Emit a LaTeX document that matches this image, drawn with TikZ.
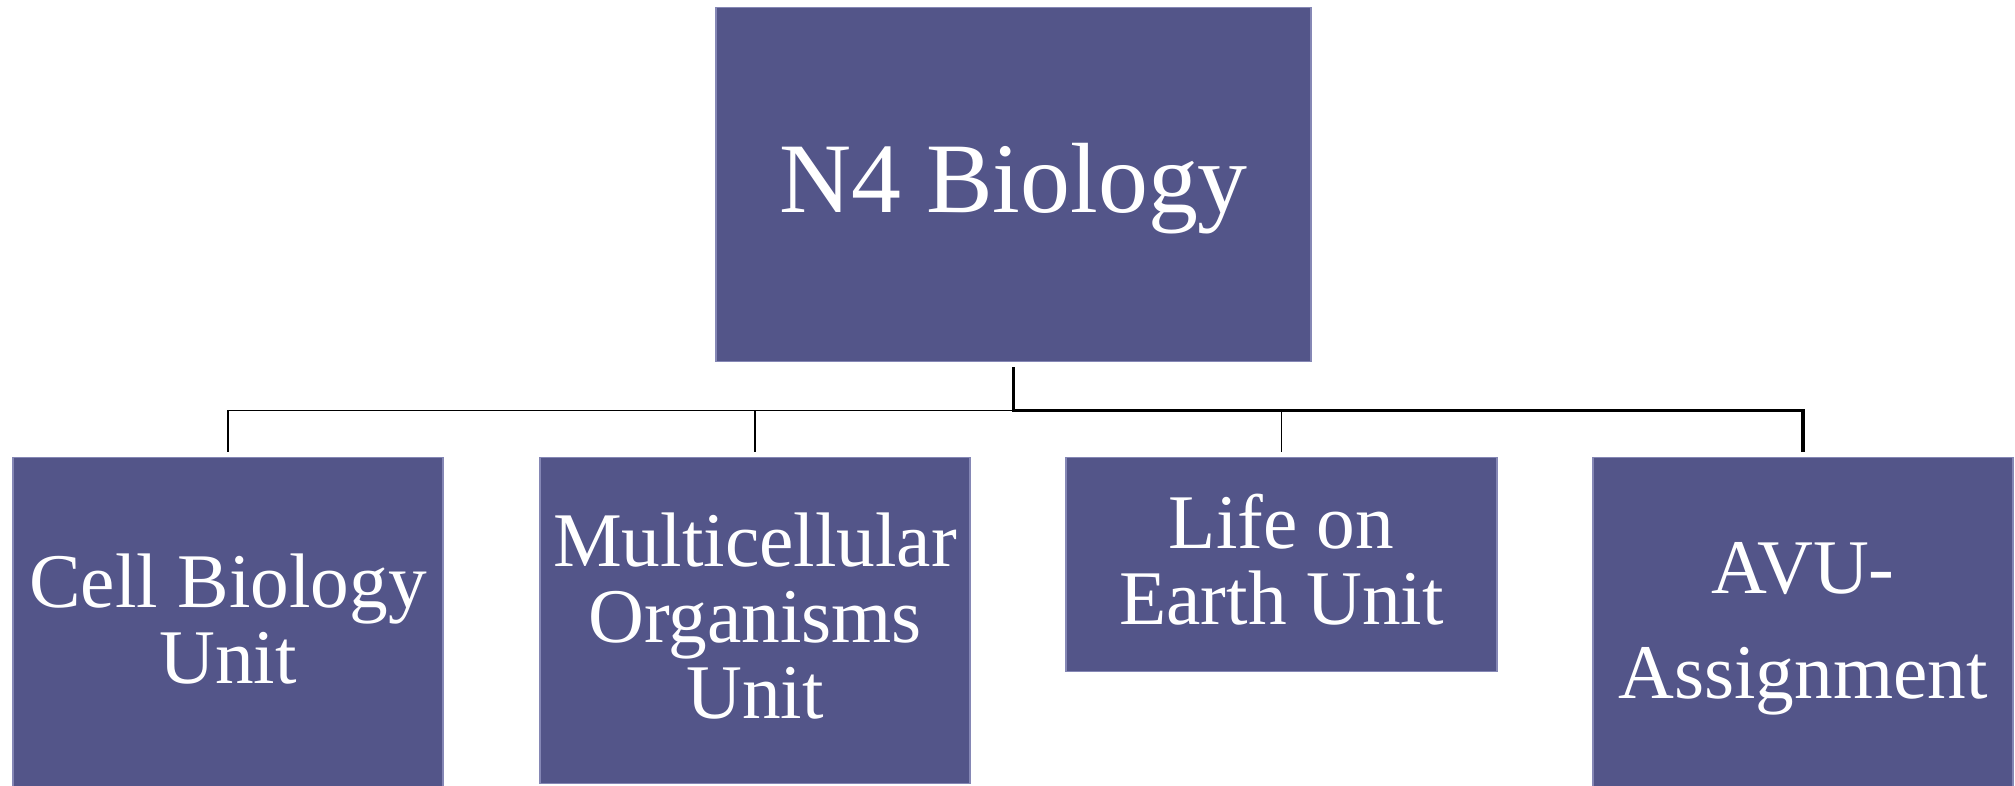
\documentclass[tikz,border=0pt]{standalone}
\usepackage{fontspec}
\setmainfont{Liberation Serif}
\definecolor{unitfill}{HTML}{535589}
\definecolor{unitedge}{HTML}{8587B5}

\tikzset{
  unitbox/.style={rectangle,fill=unitfill,draw=unitedge,line width=.4pt,
    inner sep=0pt,text=white,align=center,anchor=north,text depth=0pt,
    font=\fontsize{22}{21.6}\selectfont},
  branch/.style={black,line width=.45pt,shorten <=.05cm,shorten >=.05cm},
  mainbranch/.style={branch,line width=.9pt}
}

\begin{document}
\begin{tikzpicture}[x=1cm,y=1cm]
    \useasboundingbox (0,0) rectangle (20.15,7.85);
    \node[unitbox,minimum width=5.95cm,minimum height=3.54cm,
      font=\fontsize{28.4}{30}\selectfont,text height=.56cm]
      (course) at (10.135,7.78) {N4 Biology};
    \node[unitbox,minimum width=4.30cm,minimum height=3.38cm,
      text height=1.14cm] (cell) at (2.28,3.28)
      {Cell Biology\\Unit};
    \node[unitbox,minimum width=4.30cm,minimum height=3.26cm,
      text height=1.96cm] (multi) at (7.55,3.28)
      {Multicellular\\Organisms\\Unit};
    \node[unitbox,minimum width=4.31cm,minimum height=2.14cm,
      text height=1.20cm] (life) at (12.815,3.28)
      {Life on\\Earth Unit};
    \node[unitbox,minimum width=4.20cm,minimum height=3.38cm,
      text height=1.44cm] (avu) at (18.03,3.28)
      {AVU-\\[8.3pt]Assignment};
    % connectors, the last one is drawn heavier
    \foreach \u in {cell,multi,life}{
      \draw[branch] (course.south) -- ++(0,-.48) -| (\u.north);
    }
    \draw[mainbranch] (course.south) -- ++(0,-.48) -| (avu.north);
  \end{tikzpicture}
\end{document}
